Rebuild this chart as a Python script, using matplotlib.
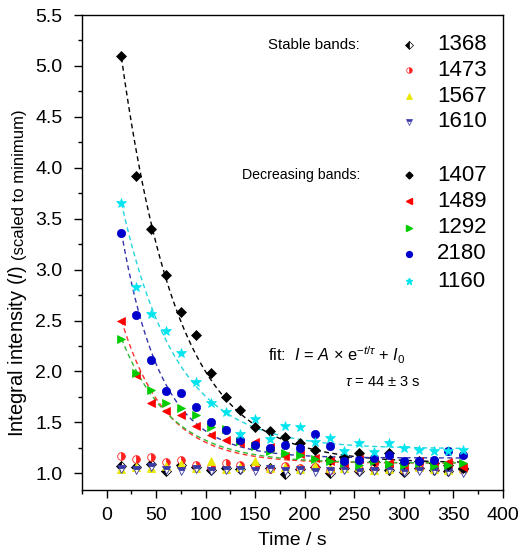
import numpy as np
import matplotlib
matplotlib.use("Agg")
import matplotlib.pyplot as plt
from matplotlib.ticker import MultipleLocator

plt.rcParams['font.family'] = ['Liberation Sans', 'DejaVu Sans']
plt.rcParams['mathtext.fontset'] = 'custom'
plt.rcParams['mathtext.rm'] = 'Liberation Sans'
plt.rcParams['mathtext.it'] = 'Liberation Sans:italic'

# ---------------- data ----------------
time_s = [15, 30, 45, 60, 75, 90, 105, 120, 135, 150, 165, 180,
          195, 210, 225, 240, 255, 270, 285, 300, 315, 330, 345, 360]

# stable bands
b1368 = [1.07, 1.06, 1.09, 1.02, 1.08, 1.06, 1.03, 1.05, 1.04, 1.08, 1.05, 0.99,
         1.04, 1.06, 1.00, 1.05, 1.02, 1.04, 1.03, 1.01, 1.05, 1.03, 1.02, 1.04]
b1473 = [1.17, 1.14, 1.16, 1.11, 1.13, 1.08, 1.06, 1.10, 1.08, 1.06, 1.04, 1.07,
         1.05, 1.06, 1.03, 1.06, 1.04, 1.05, 1.07, 1.03, 1.05, 1.04, 1.06, 1.03]
b1567 = [1.04, 1.06, 1.05, 1.07, 1.09, 1.05, 1.12, 1.04, 1.06, 1.12, 1.05, 1.06,
         1.04, 1.07, 1.05, 1.05, 1.06, 1.03, 1.04, 1.05, 1.06, 1.04, 1.03, 1.05]
b1610 = [1.04, 1.03, 1.06, 1.03, 1.02, 1.04, 1.02, 1.03, 1.03, 1.02, 1.04, 1.02,
         1.03, 1.01, 1.02, 1.03, 1.01, 1.02, 1.03, 1.01, 1.02, 1.02, 1.01, 1.00]

# decreasing bands
b1407 = [5.10, 3.92, 3.40, 2.95, 2.58, 2.36, 1.98, 1.75, 1.62, 1.45, 1.41, 1.36,
         1.30, 1.23, 1.13, 1.16, 1.20, 1.12, 1.20, 1.10, 1.12, 1.10, 1.08, 1.05]
b1489 = [2.50, 1.96, 1.69, 1.61, 1.57, 1.46, 1.38, 1.33, 1.30, 1.31, 1.26, 1.17,
         1.19, 1.15, 1.12, 1.10, 1.14, 1.12, 1.10, 1.08, 1.12, 1.10, 1.11, 1.06]
b1292 = [2.32, 1.98, 1.82, 1.69, 1.64, 1.57, 1.45, 1.43, 1.32, 1.27, 1.22, 1.20,
         1.18, 1.14, 1.12, 1.10, 1.08, 1.12, 1.09, 1.08, 1.10, 1.07, 1.08, 1.10]
b2180 = [3.36, 2.55, 2.11, 1.81, 1.79, 1.65, 1.50, 1.42, 1.33, 1.28, 1.25, 1.28,
         1.25, 1.39, 1.27, 1.12, 1.13, 1.15, 1.18, 1.12, 1.12, 1.13, 1.22, 1.18]
b1160 = [3.65, 2.83, 2.56, 2.40, 2.18, 1.90, 1.69, 1.60, 1.39, 1.53, 1.34, 1.46,
         1.45, 1.31, 1.35, 1.22, 1.30, 1.21, 1.30, 1.25, 1.23, 1.22, 1.22, 1.23]

# fit parameters (A, tau, I0)
fit_1407 = (5.18, 57, 1.10)
fit_1489 = (1.97, 44, 1.10)
fit_1292 = (1.65, 50, 1.10)
fit_2180 = (3.22, 40, 1.15)
fit_1160 = (3.17, 55, 1.24)

stable_labels = ['1368', '1473', '1567', '1610']
decr_labels = ['1407', '1489', '1292', '2180', '1160']
x_ticks = [0, 50, 100, 150, 200, 250, 300, 350, 400]
y_ticks = [1.0, 1.5, 2.0, 2.5, 3.0, 3.5, 4.0, 4.5, 5.0, 5.5]

# ---------------- figure ----------------
fig = plt.figure(figsize=(5.18, 5.5), dpi=100)
ax = fig.add_axes([0.158, 0.109, 0.813, 0.8637])

t = np.array(time_s)

stable = [
    (b1368, dict(marker='D', color='black', fillstyle='left', ms=5)),
    (b1473, dict(marker='o', color='#ff2020', fillstyle='right', ms=5.5)),
    (b1567, dict(marker='^', color='#e8e800', fillstyle='full', ms=6)),
    (b1610, dict(marker='v', color='#3a3aa8', fillstyle='top', ms=6)),
]
for vals, st in stable:
    ax.plot(t, vals, linestyle='none', markerfacecoloralt='white',
            markeredgecolor=st['color'], markerfacecolor=st['color'],
            markeredgewidth=0.6, marker=st['marker'], ms=st['ms'],
            fillstyle=st['fillstyle'])

decr = [
    (b1407, fit_1407, 'D', 'black', 'black', 5),
    (b1489, fit_1489, '<', '#ff0000', '#ff3030', 6),
    (b1292, fit_1292, '>', '#00cc00', '#33bb33', 6),
    (b2180, fit_2180, 'o', '#0000cc', '#3333aa', 6),
    (b1160, fit_1160, '*', '#00e5ee', '#22d5e0', 7),
]
tf = np.linspace(min(time_s), max(time_s), 300)
for vals, (A, tau, I0), mk, c, lc, ms in decr:
    ax.plot(tf, A * np.exp(-tf / tau) + I0, linestyle=(0, (3.5, 2.5)), color=lc,
            lw=1.0, zorder=1)
for vals, fit, mk, c, lc, ms in decr:
    ax.plot(t, vals, linestyle='none', marker=mk, color=c, ms=ms,
            markeredgewidth=0.5, zorder=3)

ax.set_xlim(-25, 400)
ax.set_ylim(0.835, 5.5)
ax.set_xticks(x_ticks)
ax.set_yticks(y_ticks)
ax.set_yticklabels([f"{v:.1f}" for v in y_ticks])
ax.xaxis.set_minor_locator(MultipleLocator(25))
ax.yaxis.set_minor_locator(MultipleLocator(0.25))
ax.tick_params(which='both', direction='out', top=False, right=False,
               labelsize=14, width=1)
ax.tick_params(which='major', length=6)
ax.tick_params(which='minor', length=3)
ax.tick_params(axis='y', which='major', pad=8)
ax.tick_params(axis='x', which='major', pad=6)
for s in ax.spines.values():
    s.set_linewidth(1.0)

ax.set_xlabel('Time / s', fontsize=14, labelpad=6)

main_lab = fig.text(0.044, 0.206, r'Integral intensity ($I$)', rotation=90,
                    rotation_mode='anchor', ha='left', va='baseline', fontsize=14.5)
fig.canvas.draw()
bb = main_lab.get_window_extent(fig.canvas.get_renderer())
top_frac = bb.y1 / fig.bbox.height
fig.text(0.047, top_frac + 0.008, '(scaled to minimum)', rotation=90,
         rotation_mode='anchor', ha='left', va='baseline', fontsize=12)

# custom legend
mx, tx, hx = 0.777, 0.843, 0.661
stable_y = [0.937, 0.884, 0.829, 0.775]
decr_y = [0.663, 0.608, 0.552, 0.497, 0.44]
ax.text(hx, stable_y[0], 'Stable bands:', transform=ax.transAxes, ha='right',
        va='center', fontsize=10.8)
ax.text(hx, decr_y[0], 'Decreasing bands:', transform=ax.transAxes, ha='right',
        va='center', fontsize=10.2)
for (vals, st), yy, lab in zip(stable, stable_y, stable_labels):
    ax.plot([mx], [yy], transform=ax.transAxes, linestyle='none',
            marker=st['marker'], ms=4, color=st['color'],
            markerfacecoloralt='white', fillstyle=st['fillstyle'],
            markeredgewidth=0.5)
    ax.text(tx, yy, lab, transform=ax.transAxes, ha='left', va='center',
            fontsize=16)
for (vals, fit, mk, c, lc, ms), yy, lab in zip(decr, decr_y, decr_labels):
    ax.plot([mx], [yy], transform=ax.transAxes, linestyle='none', marker=mk,
            ms=ms * 0.7, color=c)
    ax.text(tx, yy, lab, transform=ax.transAxes, ha='left', va='center',
            fontsize=16)

ax.text(0.442, 0.284, r'fit:  $I$ = $A$ $\times$ e$^{-t/\tau}$ + $I_0$',
        transform=ax.transAxes, ha='left', va='center', fontsize=11.8)
ax.text(0.625, 0.227, r'$\tau$ = 44 $\pm$ 3 s', transform=ax.transAxes,
        ha='left', va='center', fontsize=10.5)

fig.savefig('out.png', dpi=100)
